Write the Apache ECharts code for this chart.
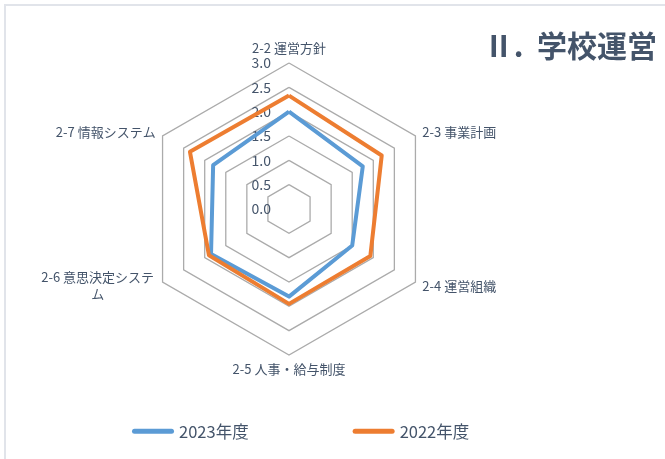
<!DOCTYPE html>
<html>
<head>
<meta charset="utf-8">
<script src="https://cdn.jsdelivr.net/npm/echarts@6/dist/echarts.min.js"></script>
<style>
  * { margin: 0; padding: 0; }
  body { width: 665px; height: 459px; overflow: hidden; background: #fff; position: relative; }
  #chart { width: 665px; height: 459px; }
  .frame {
    position: absolute; left: 4px; top: 4px; width: 700px; height: 500px;
    border-left: 2px solid #E1E4EA; border-top: 2px solid #E1E4EA;
    pointer-events: none;
  }
</style>
</head>
<body>
<div id="chart"></div>
<div class="frame"></div>
<script>
// 項目（時計回り、上から）
var categories = ['2-2 運営方針', '2-3 事業計画', '2-4 運営組織', '2-5 人事・給与制度', '2-6 意思決定システム', '2-7 情報システム']
var seriesNames = ['2023年度', '2022年度']
var values2023 = [2.0, 1.75, 1.5, 1.8, 1.85, 1.8]
var values2022 = [2.33, 2.2, 1.93, 1.95, 1.9, 2.35]
var axisMax = 3
var titleText = 'Ⅱ.  学校運営'

var textColor = '#44546A'
var font = '"Noto Sans CJK JP", "Noto Sans", sans-serif'

// echarts radar goes counter-clockwise, so flip the order after the first item
var order = [0, 5, 4, 3, 2, 1]
var pick = function (arr) { return order.map(function (i) { return arr[i] }) }

var indicators = pick(categories).map(function (name, i) {
  var ind = { name: name, min: 0, max: axisMax }
  if (i === 0) {
    ind.axisLabel = {
      show: true,
      color: textColor,
      fontSize: 14,
      fontFamily: font,
      margin: 18,
      formatter: function (v) { return Number(v).toFixed(1) }
    }
  }
  return ind
})

var option = {
  animation: false,
  title: {
    text: titleText,
    right: 3,
    top: 26,
    textStyle: { color: textColor, fontSize: 30, fontWeight: 'bold', fontFamily: font }
  },
  legend: {
    data: seriesNames,
    left: 127,
    top: 418,
    itemGap: 104,
    itemWidth: 42,
    itemHeight: 5,
    icon: 'path://M2.5,0 L39.5,0 A2.5,2.5 0 0 1 39.5,5 L2.5,5 A2.5,2.5 0 0 1 2.5,0 Z',
    textStyle: { color: textColor, fontSize: 16.5, fontFamily: font }
  },
  radar: {
    center: [289, 209],
    radius: 146,
    startAngle: 90,
    splitNumber: 6,
    shape: 'polygon',
    axisNameGap: 8,
    axisName: {
      color: textColor,
      fontSize: 13,
      fontFamily: font,
      formatter: function (name) {
        // long names wrap like the original
        if (name.length > 11) {
          return '{w|' + name.slice(0, 11) + '}\n{w|' + name.slice(11) + '}'
        }
        return name
      },
      rich: {
        w: { width: 116, align: 'center', color: textColor, fontSize: 13, fontFamily: font, lineHeight: 17 }
      }
    },
    axisLine: { show: false },
    axisTick: { show: false },
    axisLabel: { show: false },
    splitArea: { show: false },
    splitLine: { lineStyle: { color: '#ABABAB', width: 1.3 } },
    indicator: indicators
  },
  series: [
    {
      type: 'radar',
      symbol: 'none',
      data: [
        {
          name: seriesNames[0],
          value: pick(values2023),
          lineStyle: { color: '#5B9BD5', width: 4, join: 'round' },
          itemStyle: { color: '#5B9BD5' }
        },
        {
          name: seriesNames[1],
          value: pick(values2022),
          lineStyle: { color: '#ED7D31', width: 4, join: 'round' },
          itemStyle: { color: '#ED7D31' }
        }
      ]
    }
  ]
}

var chart = echarts.init(document.getElementById('chart'))
chart.setOption(option)
</script>
</body>
</html>
